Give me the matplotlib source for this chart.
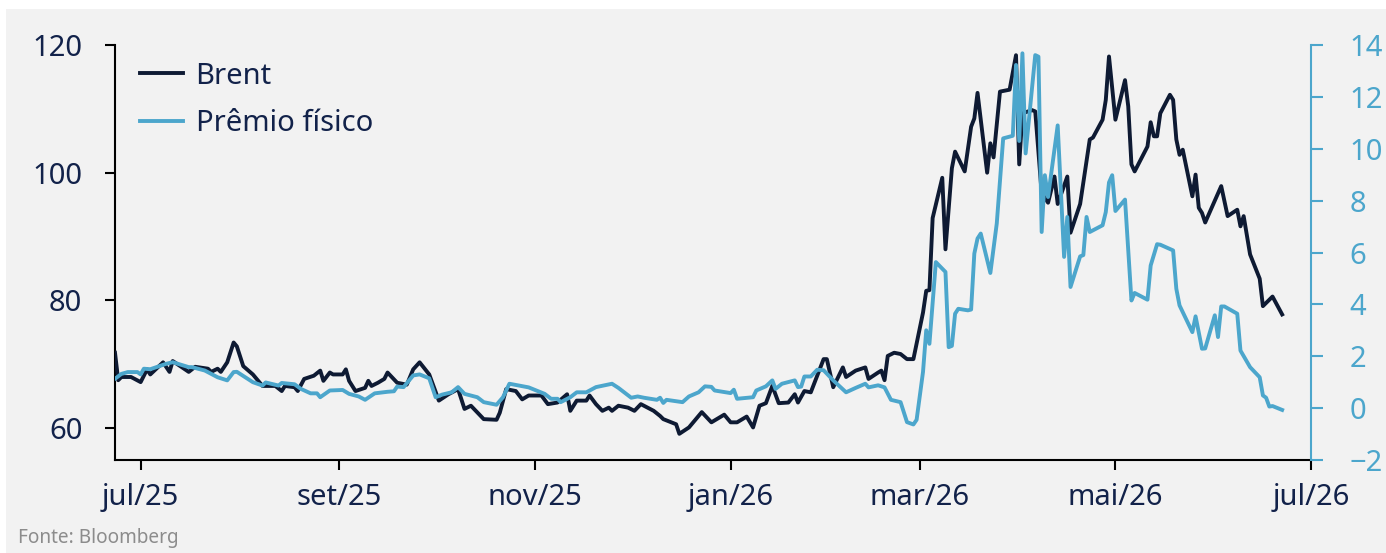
import matplotlib
matplotlib.use("Agg")
import matplotlib.pyplot as plt
from matplotlib.patches import Rectangle
import pandas as pd

# Brent (eixo esquerdo, US$/barril)
brent_datas = [
    "2025-06-23", "2025-06-24", "2025-06-25", "2025-06-28", "2025-07-01", "2025-07-03", "2025-07-04",
    "2025-07-08", "2025-07-10", "2025-07-11", "2025-07-16", "2025-07-18", "2025-07-22", "2025-07-23",
    "2025-07-25", "2025-07-26", "2025-07-28", "2025-07-30", "2025-07-31", "2025-08-02", "2025-08-05",
    "2025-08-08", "2025-08-12", "2025-08-14", "2025-08-15", "2025-08-18", "2025-08-19", "2025-08-21",
    "2025-08-24", "2025-08-26", "2025-08-27", "2025-08-29", "2025-08-30", "2025-09-02", "2025-09-03",
    "2025-09-04", "2025-09-06", "2025-09-09", "2025-09-10", "2025-09-11", "2025-09-13", "2025-09-15",
    "2025-09-16", "2025-09-19", "2025-09-22", "2025-09-24", "2025-09-26", "2025-09-29", "2025-10-02",
    "2025-10-05", "2025-10-08", "2025-10-10", "2025-10-12", "2025-10-16", "2025-10-20", "2025-10-21",
    "2025-10-23", "2025-10-26", "2025-10-28", "2025-10-30", "2025-11-03", "2025-11-05", "2025-11-08",
    "2025-11-11", "2025-11-12", "2025-11-14", "2025-11-17", "2025-11-18", "2025-11-20", "2025-11-22",
    "2025-11-24", "2025-11-25", "2025-11-27", "2025-11-30", "2025-12-02", "2025-12-04", "2025-12-08",
    "2025-12-10", "2025-12-11", "2025-12-15", "2025-12-16", "2025-12-19", "2025-12-23", "2025-12-26",
    "2025-12-30", "2026-01-01", "2026-01-03", "2026-01-06", "2026-01-08", "2026-01-10", "2026-01-12",
    "2026-01-14", "2026-01-16", "2026-01-19", "2026-01-21", "2026-01-22", "2026-01-24", "2026-01-26",
    "2026-01-28", "2026-01-30", "2026-01-31", "2026-02-02", "2026-02-05", "2026-02-06", "2026-02-09",
    "2026-02-12", "2026-02-13", "2026-02-16", "2026-02-17", "2026-02-18", "2026-02-19", "2026-02-21",
    "2026-02-23", "2026-02-25", "2026-02-27", "2026-03-02", "2026-03-03", "2026-03-04", "2026-03-05",
    "2026-03-08", "2026-03-09", "2026-03-11", "2026-03-12", "2026-03-15", "2026-03-17", "2026-03-18",
    "2026-03-19", "2026-03-22", "2026-03-23", "2026-03-24", "2026-03-26", "2026-03-29", "2026-03-31",
    "2026-04-01", "2026-04-02", "2026-04-05", "2026-04-06", "2026-04-08", "2026-04-10", "2026-04-12",
    "2026-04-13", "2026-04-16", "2026-04-17", "2026-04-20", "2026-04-23", "2026-04-24", "2026-04-27",
    "2026-04-28", "2026-04-29", "2026-05-01", "2026-05-04", "2026-05-05", "2026-05-06", "2026-05-07",
    "2026-05-11", "2026-05-12", "2026-05-13", "2026-05-14", "2026-05-15", "2026-05-18", "2026-05-19",
    "2026-05-20", "2026-05-21", "2026-05-22", "2026-05-25", "2026-05-26", "2026-05-27", "2026-05-28",
    "2026-05-29", "2026-06-03", "2026-06-05", "2026-06-08", "2026-06-09", "2026-06-10", "2026-06-12",
    "2026-06-15", "2026-06-16", "2026-06-19", "2026-06-22",
]
brent_valores = [
    71.8, 67.5, 68.0, 68.0, 67.2, 69.2, 68.4,
    70.3, 68.8, 70.5, 68.8, 69.6, 69.3, 68.8,
    69.3, 68.8, 70.3, 73.4, 72.8, 69.7, 68.4,
    66.6, 66.6, 65.8, 66.6, 66.4, 65.8, 67.7,
    68.2, 69.0, 67.4, 68.7, 68.4, 68.4, 69.2,
    67.4, 65.8, 66.3, 67.4, 66.6, 67.1, 67.7,
    68.7, 67.1, 66.8, 69.2, 70.3, 68.4, 64.3,
    65.3, 66.1, 63.0, 63.5, 61.4, 61.3, 62.4,
    66.1, 65.8, 64.5, 65.1, 65.1, 63.75, 64.0,
    65.3, 62.7, 64.3, 64.3, 65.1, 63.75, 62.7,
    63.2, 62.7, 63.5, 63.2, 62.7, 63.75, 62.7,
    61.9, 61.4, 60.6, 59.1, 60.1, 62.5, 60.9,
    62.1, 60.9, 60.9, 61.8, 60.1, 63.5, 63.9,
    66.6, 63.9, 64.0, 65.3, 64.0, 65.8, 65.6,
    68.2, 70.8, 70.8, 66.4, 69.5, 68.0, 69.0,
    69.5, 67.7, 68.7, 69.0, 67.5, 71.3, 71.8,
    71.6, 70.8, 70.8, 78.1, 81.5, 81.6, 92.9,
    99.2, 88.0, 100.7, 103.3, 100.2, 107.2, 108.5,
    112.5, 100.0, 104.6, 102.4, 112.7, 113.0, 118.4,
    101.3, 109.3, 109.8, 109.6, 96.8, 95.3, 99.4,
    95.1, 99.4, 90.6, 95.1, 105.2, 105.5, 108.3,
    111.4, 118.2, 108.3, 114.5, 110.4, 101.3, 100.2,
    104.1, 107.9, 105.7, 105.7, 109.3, 112.2, 111.4,
    105.2, 102.8, 103.6, 96.3, 99.7, 94.5, 93.7,
    92.2, 97.9, 93.2, 94.2, 91.6, 93.2, 87.2,
    83.4, 79.1, 80.6, 77.8,
]

# Premio fisico (eixo direito)
premio_datas = [
    "2025-06-23", "2025-06-25", "2025-06-27", "2025-06-30", "2025-07-01", "2025-07-02", "2025-07-04",
    "2025-07-09", "2025-07-11", "2025-07-16", "2025-07-17", "2025-07-21", "2025-07-25", "2025-07-28",
    "2025-07-30", "2025-07-31", "2025-08-05", "2025-08-08", "2025-08-09", "2025-08-13", "2025-08-14",
    "2025-08-18", "2025-08-20", "2025-08-23", "2025-08-25", "2025-08-26", "2025-08-29", "2025-09-02",
    "2025-09-04", "2025-09-07", "2025-09-09", "2025-09-12", "2025-09-16", "2025-09-18", "2025-09-19",
    "2025-09-21", "2025-09-24", "2025-09-26", "2025-09-29", "2025-10-01", "2025-10-03", "2025-10-06",
    "2025-10-08", "2025-10-10", "2025-10-14", "2025-10-16", "2025-10-20", "2025-10-22", "2025-10-24",
    "2025-10-27", "2025-10-28", "2025-10-30", "2025-11-04", "2025-11-06", "2025-11-08", "2025-11-09",
    "2025-11-12", "2025-11-14", "2025-11-17", "2025-11-20", "2025-11-25", "2025-11-27", "2025-12-01",
    "2025-12-03", "2025-12-05", "2025-12-09", "2025-12-10", "2025-12-11", "2025-12-12", "2025-12-17",
    "2025-12-19", "2025-12-22", "2025-12-24", "2025-12-26", "2025-12-27", "2026-01-01", "2026-01-02",
    "2026-01-03", "2026-01-08", "2026-01-09", "2026-01-12", "2026-01-14", "2026-01-15", "2026-01-17",
    "2026-01-21", "2026-01-22", "2026-01-23", "2026-01-24", "2026-01-26", "2026-01-28", "2026-01-30",
    "2026-02-02", "2026-02-04", "2026-02-06", "2026-02-09", "2026-02-12", "2026-02-13", "2026-02-16",
    "2026-02-18", "2026-02-20", "2026-02-23", "2026-02-25", "2026-02-27", "2026-02-28", "2026-03-02",
    "2026-03-03", "2026-03-04", "2026-03-06", "2026-03-09", "2026-03-10", "2026-03-11", "2026-03-12",
    "2026-03-13", "2026-03-16", "2026-03-17", "2026-03-18", "2026-03-19", "2026-03-20", "2026-03-23",
    "2026-03-25", "2026-03-27", "2026-03-30", "2026-03-31", "2026-04-01", "2026-04-02", "2026-04-03",
    "2026-04-06", "2026-04-07", "2026-04-08", "2026-04-09", "2026-04-10", "2026-04-13", "2026-04-15",
    "2026-04-16", "2026-04-17", "2026-04-20", "2026-04-21", "2026-04-22", "2026-04-23", "2026-04-27",
    "2026-04-28", "2026-04-29", "2026-04-30", "2026-05-01", "2026-05-04", "2026-05-06", "2026-05-07",
    "2026-05-11", "2026-05-12", "2026-05-14", "2026-05-15", "2026-05-19", "2026-05-20", "2026-05-21",
    "2026-05-25", "2026-05-26", "2026-05-28", "2026-05-29", "2026-06-01", "2026-06-02", "2026-06-03",
    "2026-06-04", "2026-06-08", "2026-06-09", "2026-06-12", "2026-06-15", "2026-06-16", "2026-06-17",
    "2026-06-18", "2026-06-19", "2026-06-22",
]
premio_valores = [
    1.13, 1.32, 1.39, 1.39, 1.30, 1.52, 1.50,
    1.71, 1.77, 1.58, 1.58, 1.45, 1.19, 1.07,
    1.39, 1.40, 1.00, 0.87, 0.99, 0.87, 0.97,
    0.92, 0.74, 0.57, 0.57, 0.42, 0.68, 0.70,
    0.55, 0.45, 0.32, 0.57, 0.63, 0.65, 0.83,
    0.81, 1.26, 1.30, 1.15, 0.42, 0.52, 0.61,
    0.81, 0.55, 0.42, 0.23, 0.13, 0.42, 0.94,
    0.87, 0.85, 0.80, 0.55, 0.36, 0.36, 0.23,
    0.42, 0.61, 0.61, 0.81, 0.94, 0.78, 0.40,
    0.45, 0.40, 0.32, 0.40, 0.20, 0.32, 0.23,
    0.45, 0.61, 0.84, 0.82, 0.68, 0.58, 0.71,
    0.36, 0.42, 0.68, 0.84, 1.07, 0.74, 0.94,
    1.07, 0.81, 0.83, 1.22, 1.22, 1.48, 1.46,
    1.07, 0.84, 0.61, 0.78, 0.94, 0.80, 0.88,
    0.80, 0.32, 0.23, -0.54, -0.63, -0.45, 1.40,
    3.00, 2.48, 5.63, 5.25, 2.35, 2.40, 3.64,
    3.83, 3.77, 3.80, 5.96, 6.54, 6.73, 5.21,
    7.12, 10.40, 10.50, 13.23, 10.30, 13.68, 9.82,
    13.61, 13.55, 6.79, 8.98, 8.14, 10.90, 5.83,
    7.37, 4.67, 5.85, 5.90, 7.37, 6.79, 7.05,
    7.56, 8.70, 8.98, 7.60, 8.04, 4.15, 4.44,
    4.18, 5.50, 6.32, 6.30, 6.08, 4.60, 3.96,
    2.93, 3.54, 2.29, 2.30, 3.58, 2.74, 3.92,
    3.92, 3.64, 2.22, 1.58, 1.19, 0.49, 0.40,
    0.06, 0.08, -0.07,
]

meses_ticks = ["2025-07-01", "2025-09-01", "2025-11-01", "2026-01-01", "2026-03-01", "2026-05-01", "2026-07-01"]
meses_labels = ["jul/25", "set/25", "nov/25", "jan/26", "mar/26", "mai/26", "jul/26"]

cor_brent = "#0e1a33"
cor_premio = "#4ca6cc"
cor_texto = "#12224a"
cor_fundo = "#f2f2f2"

plt.rcParams["font.family"] = ["Noto Sans", "DejaVu Sans"]

fig = plt.figure(figsize=(13.86, 5.53), dpi=100)
# fundo cinza do painel
fig.patches.append(Rectangle((6 / 1386, 0), 1 - 6 / 1386, 1 - 9 / 553, transform=fig.transFigure,
                             facecolor=cor_fundo, edgecolor="none", zorder=-10))

ax = fig.add_axes([115 / 1386, 1 - 460 / 553, (1311 - 115) / 1386, (460 - 45) / 553])
ax.patch.set_visible(False)
ax2 = ax.twinx()

x_brent = pd.to_datetime(brent_datas)
x_premio = pd.to_datetime(premio_datas)

l1, = ax.plot(x_brent, brent_valores, color=cor_brent, lw=2.8, label="Brent", zorder=3)
l2, = ax2.plot(x_premio, premio_valores, color=cor_premio, lw=2.8, label="Prêmio físico", zorder=2)

ax.set_xlim(pd.Timestamp("2025-06-23"), pd.Timestamp("2026-07-01"))
ax.set_ylim(55, 120)
ax2.set_ylim(-2, 14)
ax.set_yticks([60, 80, 100, 120])
ax2.set_yticks(range(-2, 15, 2))
ax.set_xticks(pd.to_datetime(meses_ticks))
ax.set_xticklabels(meses_labels)

ax.spines["top"].set_visible(False)
ax.spines["right"].set_visible(False)
ax2.spines["top"].set_visible(False)
ax2.spines["left"].set_visible(False)
ax2.spines["bottom"].set_visible(False)
ax2.spines["right"].set_color(cor_premio)
ax2.spines["right"].set_linewidth(1.5)
for s in ["left", "bottom"]:
    ax.spines[s].set_color("black")
    ax.spines[s].set_linewidth(1.5)

ax.tick_params(axis="y", length=7.5, width=1.5, pad=16, labelsize=21, labelcolor=cor_texto)
ax.tick_params(axis="x", length=7.5, width=1.5, pad=9, labelsize=21, labelcolor=cor_texto)
ax2.tick_params(axis="y", length=8.5, width=1.5, pad=19, labelsize=21, colors=cor_premio)

leg = ax.legend(handles=[l1, l2], loc="upper left", bbox_to_anchor=(0.021, 0.96), frameon=False,
                borderpad=0, borderaxespad=0, fontsize=21, labelcolor=cor_texto,
                handlelength=1.48, handletextpad=0.42, labelspacing=0.64)

fig.text(18 / 1386, 1 - 538 / 553, "Fonte: Bloomberg", fontsize=13.7, color="#8c8c8c", va="center")

fig.savefig("out.png", dpi=100)
